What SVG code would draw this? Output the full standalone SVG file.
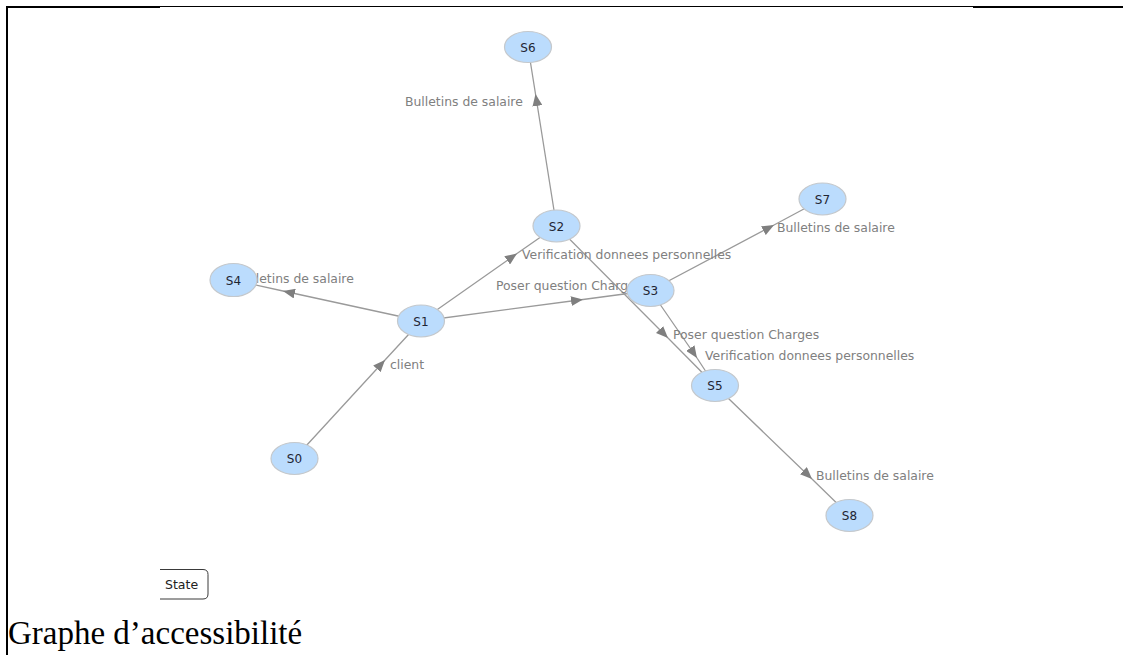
<svg xmlns="http://www.w3.org/2000/svg" width="1123" height="655" viewBox="0 0 1123 655">
  <defs>
    <marker id="arrow" viewBox="0 0 12 10" refX="12" refY="5" markerWidth="12" markerHeight="10" markerUnits="userSpaceOnUse" orient="auto">
      <path d="M0,0 L12,5 L0,10 z" fill="#7f7f7f"/>
    </marker>
    <style>
      .frame { stroke: #000; fill: none; }
      .edge { stroke: #9a9a9a; stroke-width: 1.3; fill: none; marker-mid: url(#arrow); }
      .elabel { font-family: "DejaVu Sans", Verdana, sans-serif; font-size: 12.4px; fill: #808080; }
      .node ellipse { fill: #bbdcfd; stroke: #c4c8cc; stroke-width: 1.2; }
      .node text { font-family: "DejaVu Sans", Verdana, sans-serif; font-size: 12px; fill: #1f2533; text-anchor: middle; }
      .btn { stroke: #3a3a3a; stroke-width: 1; fill: #fff; }
      .btntext { font-family: "DejaVu Sans", Verdana, sans-serif; font-size: 12.5px; fill: #222; }
      .caption { font-family: "Liberation Serif", "Times New Roman", serif; font-size: 33px; fill: #000; }
    </style>
  </defs>
  <rect width="1123" height="655" fill="#fff"/>

  <!-- table frame -->
  <g id="frame">
    <line class="frame" x1="6" y1="7" x2="160" y2="7" stroke-width="2"/>
    <line class="frame" x1="160" y1="6.5" x2="973" y2="6.5" stroke-width="1"/>
    <line class="frame" x1="973" y1="7" x2="1123" y2="7" stroke-width="2"/>
    <line class="frame" x1="7" y1="6" x2="7" y2="655" stroke-width="2"/>
  </g>

  <!-- transitions: start, arrow point, end (node centres) -->
  <g id="connectors">
    <path class="edge" d="M294.5,458.5 L385,360 L421,321"/>
    <path class="edge" d="M421,321 L283,291 L233.5,280"/>
    <path class="edge" d="M421,321 L517,253.5 L556.5,226"/>
    <path class="edge" d="M421,321 L583,299.5 L650.5,290.5"/>
    <path class="edge" d="M556.5,226 L535.5,94 L528,47"/>
    <path class="edge" d="M556.5,226 L668,338 L715,385.5"/>
    <path class="edge" d="M650.5,290.5 L697,358 L715,385.5"/>
    <path class="edge" d="M650.5,290.5 L774,225 L822.5,199"/>
    <path class="edge" d="M715,385.5 L812,479 L849.5,515.5"/>
  </g>

  <g id="edge-labels">
    <text class="elabel" x="390" y="369">client</text>
    <text class="elabel" x="236" y="283">Bulletins de salaire</text>
    <text class="elabel" x="522" y="259">Verification donnees personnelles</text>
    <text class="elabel" x="496" y="290">Poser question Charges</text>
    <text class="elabel" x="405" y="106">Bulletins de salaire</text>
    <text class="elabel" x="673" y="339">Poser question Charges</text>
    <text class="elabel" x="705" y="360">Verification donnees personnelles</text>
    <text class="elabel" x="777" y="232">Bulletins de salaire</text>
    <text class="elabel" x="816" y="480">Bulletins de salaire</text>
  </g>

  <g id="S0" class="node"><ellipse cx="294.5" cy="458.5" rx="23.5" ry="16"/><text x="294.5" y="463">S0</text></g>
  <g id="S1" class="node"><ellipse cx="421" cy="321" rx="23.5" ry="16"/><text x="421" y="325.5">S1</text></g>
  <g id="S2" class="node"><ellipse cx="556.5" cy="226" rx="23.5" ry="16"/><text x="556.5" y="230.5">S2</text></g>
  <g id="S3" class="node"><ellipse cx="650.5" cy="290.5" rx="23.5" ry="16"/><text x="650.5" y="295">S3</text></g>
  <g id="S4" class="node"><ellipse cx="233.5" cy="280" rx="23.5" ry="16.5"/><text x="233.5" y="284.5">S4</text></g>
  <g id="S5" class="node"><ellipse cx="715" cy="385.5" rx="23.5" ry="16"/><text x="715" y="390">S5</text></g>
  <g id="S6" class="node"><ellipse cx="528" cy="47" rx="23.5" ry="15.5"/><text x="528" y="51.5">S6</text></g>
  <g id="S7" class="node"><ellipse cx="822.5" cy="199" rx="23.5" ry="16"/><text x="822.5" y="203.5">S7</text></g>
  <g id="S8" class="node"><ellipse cx="849.5" cy="515.5" rx="23.5" ry="16"/><text x="849.5" y="520">S8</text></g>

  <!-- legend button -->
  <g id="legend">
    <path class="btn" d="M160,569.5 H203 Q208,569.5 208,574.5 V594 Q208,599 203,599 H160"/>
    <text class="btntext" x="165" y="589">State</text>
  </g>

  <text class="caption" x="8" y="644">Graphe d’accessibilité</text>
</svg>
